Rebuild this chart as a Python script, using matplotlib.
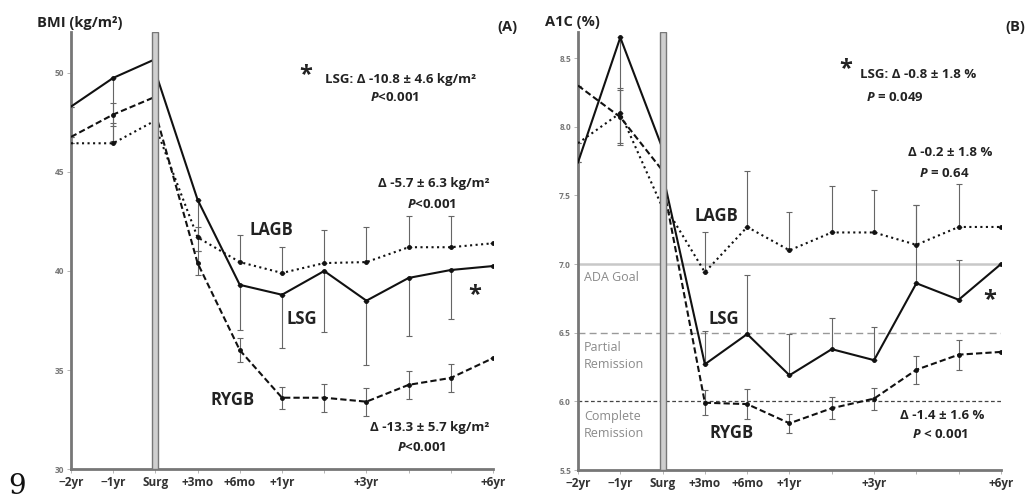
import numpy as np
import matplotlib
matplotlib.use('Agg')
import matplotlib.pyplot as plt

plt.rcParams['font.family'] = ['Open Sans', 'DejaVu Sans']
plt.rcParams['font.weight'] = 'bold'
plt.rcParams['mathtext.fontset'] = 'custom'
plt.rcParams['mathtext.rm'] = 'Open Sans:bold'
plt.rcParams['mathtext.it'] = 'Open Sans:bold:italic'

# time points (index 2 = surgery)
tick_labels = ['\u22122yr', '\u22121yr', 'Surg', '+3mo', '+6mo', '+1yr', '', '+3yr', '', '', '+6yr']
xs = np.arange(11)

# BMI means (index 2 = value just before surgery)
bmi_lsg = [48.3, 49.75, 50.7, 43.6, 39.3, 38.8, 40.0, 38.5, 39.65, 40.05, 40.25]
bmi_lagb = [46.45, 46.45, 47.6, 41.7, 40.45, 39.9, 40.4, 40.45, 41.2, 41.2, 41.4]
bmi_rygb = [46.77, 47.9, 48.8, 40.4, 36.0, 33.6, 33.6, 33.4, 34.25, 34.6, 35.6]
bmi_after_surg = {'lsg': 50.05, 'lagb': 47.3, 'rygb': 48.0}
# BMI error bars
bmi_lsg_lo = [0, 3.2, 0, 2.6, 2.3, 2.7, 3.1, 3.25, 2.95, 2.45, 0]
bmi_lagb_hi = [0, 1.0, 0, 0.5, 1.35, 1.3, 1.65, 1.75, 1.6, 1.6, 0]
bmi_rygb_err = [0, 0.6, 0, 0.6, 0.6, 0.55, 0.7, 0.7, 0.7, 0.7, 0]

# A1C means
a1c_lsg = [7.74, 8.65, 7.84, 6.27, 6.49, 6.19, 6.38, 6.30, 6.86, 6.74, 7.0]
a1c_lagb = [7.88, 8.1, 7.41, 6.94, 7.27, 7.10, 7.23, 7.23, 7.14, 7.27, 7.27]
a1c_rygb = [8.3, 8.07, 7.68, 5.99, 5.98, 5.84, 5.95, 6.02, 6.23, 6.34, 6.36]
a1c_after_surg = {'lsg': 7.66, 'lagb': 7.45, 'rygb': 7.6}
# A1C error bars
a1c_lsg_lo = [0, 0.77, 0, 0, 0, 0, 0, 0, 0, 0, 0]
a1c_lsg_hi = [0, 0, 0, 0.24, 0.43, 0.30, 0.23, 0.24, 0.57, 0.29, 0]
a1c_lagb_hi = [0, 0.18, 0, 0.29, 0.41, 0.28, 0.34, 0.31, 0.29, 0.31, 0]
a1c_rygb_err = [0, 0.2, 0, 0.09, 0.11, 0.07, 0.08, 0.08, 0.1, 0.11, 0]

TXT = '#222222'
EC = '#666666'
ANN = 9.5
GRP = 12


def draw_group(ax, vals, after, ls, lo, hi):
    ax.plot(xs[:3], vals[:3], color='#111111', ls=ls, lw=1.5, zorder=3)
    ax.plot(xs[2:], [after] + vals[3:], color='#111111', ls=ls, lw=1.5, zorder=3)
    ax.plot(xs[1:2].tolist() + xs[3:].tolist(), vals[1:2] + vals[3:], 'o',
            color='#111111', ms=2.5, zorder=4)
    ax.errorbar(xs, vals, yerr=[lo, hi], fmt='none', ecolor=EC, elinewidth=0.8,
                capsize=2, capthick=0.8, zorder=2)


def style_axes(ax, ylim, yticks, ylabels):
    ax.set_xlim(0, 10)
    ax.set_ylim(*ylim)
    for s in ['top', 'right']:
        ax.spines[s].set_visible(False)
    for s in ['left', 'bottom']:
        ax.spines[s].set_color('#777777')
        ax.spines[s].set_linewidth(2)
    ax.set_xticks(xs)
    ax.set_xticklabels(tick_labels, fontsize=8.5, color='#333333', fontweight='bold')
    ax.set_yticks(yticks)
    ax.set_yticklabels(ylabels, fontsize=6, color='#777777')
    ax.tick_params(axis='both', length=3, width=0.6, color='#aaaaaa', pad=2)
    ax.axvspan(1.93, 2.07, facecolor='#cfcfcf', edgecolor='#777777', lw=1, zorder=6)


fig = plt.figure(figsize=(10.36, 4.99), dpi=100)

# ---- (A) BMI ----
axA = fig.add_axes([0.0685, 0.0601, 0.4074, 0.8758])
style_axes(axA, (30, 52.07), [30, 35, 40, 45, 50], ['30', '35', '40', '45', '50'])
draw_group(axA, bmi_lsg, bmi_after_surg['lsg'], '-', bmi_lsg_lo, [0] * 11)
draw_group(axA, bmi_lagb, bmi_after_surg['lagb'], ':', [0] * 11, bmi_lagb_hi)
draw_group(axA, bmi_rygb, bmi_after_surg['rygb'], (0, (3, 1.5)), bmi_rygb_err, bmi_rygb_err)

axA.text(5.55, 49.9, '*', fontsize=17, color=TXT, ha='center', va='center')
axA.text(7.8, 49.65, 'LSG: \u0394 -10.8 \u00b1 4.6 kg/m\u00b2', fontsize=ANN, color=TXT, ha='center', va='center')
axA.text(7.68, 48.74, '$P$<0.001', fontsize=ANN, color=TXT, ha='center', va='center')
axA.text(8.6, 44.4, '\u0394 -5.7 \u00b1 6.3 kg/m\u00b2', fontsize=ANN, color=TXT, ha='center', va='center')
axA.text(8.55, 43.38, '$P$<0.001', fontsize=ANN, color=TXT, ha='center', va='center')
axA.text(4.76, 42.07, 'LAGB', fontsize=GRP, color=TXT, ha='center', va='center')
axA.text(5.47, 37.6, 'LSG', fontsize=GRP, color=TXT, ha='center', va='center')
axA.text(3.82, 33.5, 'RYGB', fontsize=GRP, color=TXT, ha='center', va='center')
axA.text(8.5, 32.1, '\u0394 -13.3 \u00b1 5.7 kg/m\u00b2', fontsize=ANN, color=TXT, ha='center', va='center')
axA.text(8.3, 31.1, '$P$<0.001', fontsize=ANN, color=TXT, ha='center', va='center')
axA.text(9.57, 38.8, '*', fontsize=17, color=TXT, ha='center', va='center')

# ---- (B) A1C ----
axB = fig.add_axes([0.5579, 0.0581, 0.4083, 0.8778])
style_axes(axB, (5.5, 8.69), [5.5, 6.0, 6.5, 7.0, 7.5, 8.0, 8.5],
           ['5.5', '6.0', '6.5', '7.0', '7.5', '8.0', '8.5'])
axB.axhline(7.0, color='#c8c8c8', lw=1.8, zorder=1)
axB.axhline(6.5, color='#999999', lw=1, ls=(0, (5, 3)), zorder=1)
axB.axhline(6.0, color='#444444', lw=0.9, ls=(0, (3, 2)), zorder=1)
axB.text(0.14, 6.90, 'ADA Goal', fontsize=9, color='#8a8a8a', va='center', fontweight='normal')
axB.text(0.14, 6.33, 'Partial\nRemission', fontsize=9, color='#8a8a8a', va='center',
         linespacing=1.4, fontweight='normal')
axB.text(0.14, 5.83, 'Complete\nRemission', fontsize=9, color='#8a8a8a', va='center',
         linespacing=1.4, fontweight='normal')

draw_group(axB, a1c_lsg, a1c_after_surg['lsg'], '-', a1c_lsg_lo, a1c_lsg_hi)
draw_group(axB, a1c_lagb, a1c_after_surg['lagb'], ':', [0] * 11, a1c_lagb_hi)
draw_group(axB, a1c_rygb, a1c_after_surg['rygb'], (0, (3, 1.5)), a1c_rygb_err, a1c_rygb_err)

axB.text(6.33, 8.42, '*', fontsize=17, color=TXT, ha='center', va='center')
axB.text(8.03, 8.38, 'LSG: \u0394 -0.8 \u00b1 1.8 %', fontsize=ANN, color=TXT, ha='center', va='center')
axB.text(7.5, 8.21, '$P$ = 0.049', fontsize=ANN, color=TXT, ha='center', va='center')
axB.text(8.79, 7.81, '\u0394 -0.2 \u00b1 1.8 %', fontsize=ANN, color=TXT, ha='center', va='center')
axB.text(8.65, 7.66, '$P$ = 0.64', fontsize=ANN, color=TXT, ha='center', va='center')
axB.text(3.26, 7.35, 'LAGB', fontsize=GRP, color=TXT, ha='center', va='center')
axB.text(3.45, 6.60, 'LSG', fontsize=GRP, color=TXT, ha='center', va='center')
axB.text(3.62, 5.77, 'RYGB', fontsize=GRP, color=TXT, ha='center', va='center')
axB.text(8.6, 5.90, '\u0394 -1.4 \u00b1 1.6 %', fontsize=ANN, color=TXT, ha='center', va='center')
axB.text(8.56, 5.76, '$P$ < 0.001', fontsize=ANN, color=TXT, ha='center', va='center')
axB.text(9.74, 6.74, '*', fontsize=17, color=TXT, ha='center', va='center')

# headers
fig.text(37 / 1036, 1 - 23 / 499, 'BMI (kg/m\u00b2)', fontsize=10.5, color=TXT, va='center')
fig.text(497 / 1036, 1 - 27 / 499, '(A)', fontsize=10.5, color=TXT, va='center')
fig.text(545 / 1036, 1 - 22 / 499, 'A1C (%)', fontsize=10.5, color=TXT, va='center')
fig.text(1005 / 1036, 1 - 27 / 499, '(B)', fontsize=10.5, color=TXT, va='center')
fig.text(0.008, 1 - 487 / 499, '9', fontsize=20, color='#111111', family='DejaVu Serif',
         fontweight='normal', va='center')

fig.savefig('out.png', dpi=100)
